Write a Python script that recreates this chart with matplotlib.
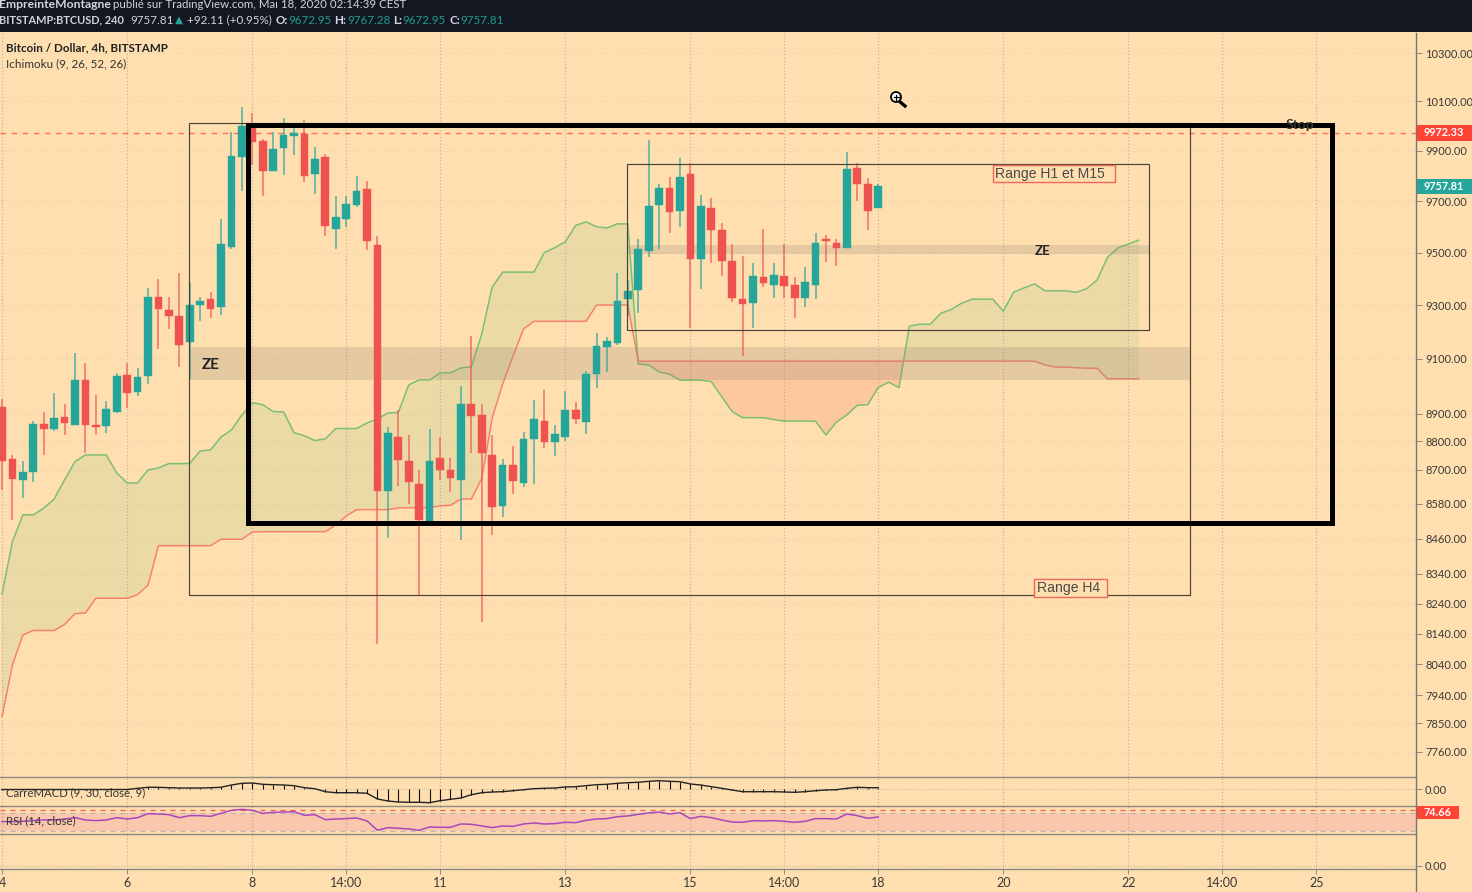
import numpy as np
import matplotlib
matplotlib.use("Agg")
import matplotlib.pyplot as plt
from matplotlib.patches import Rectangle, Ellipse
from matplotlib.lines import Line2D
from matplotlib.ticker import NullLocator

plt.rcParams['font.family'] = ['Lato', 'DejaVu Sans']

# BTCUSD 4h candles
opens = [8925, 8738, 8663, 8690, 8862, 8845, 8889, 8860, 9022, 8859, 8854, 8906, 9039, 8979, 9037, 9329, 9282,
         9259, 9162, 9299, 9322, 9292, 9523, 9876, 10000, 9941, 9819, 9912, 9961, 9968, 9806, 9875, 9593, 9630,
         9686, 9747, 9529, 8626, 8816, 8732, 8651, 8521, 8742, 8699, 8665, 8935, 8895, 8752, 8573, 8717, 8653,
         8809, 8872, 8799, 8816, 8913, 8868, 9044, 9144, 9158, 9323, 9358, 9505, 9684, 9751, 9663, 9808, 9474,
         9672, 9588, 9467, 9322, 9307, 9405, 9376, 9409, 9377, 9327, 9376, 9551, 9536, 9519, 9830, 9768, 9672.95]
highs = [8953, 8752, 8732, 8873, 8906, 8976, 8935, 9121, 9084, 8967, 8946, 9047, 9084, 9066, 9365, 9399, 9329,
         9420, 9385, 9331, 9349, 9629, 9976, 10076, 10051, 9947, 9976, 10031, 9997, 10024, 9915, 9886, 9719, 9721,
         9799, 9780, 9564, 8850, 8911, 8823, 8697, 8844, 8816, 8742, 8999, 9184, 8933, 8823, 8738, 8785, 8834,
         8949, 8986, 8859, 8982, 8942, 9056, 9195, 9179, 9422, 9395, 9552, 9943, 9768, 9795, 9871, 9852, 9725,
         9711, 9613, 9532, 9487, 9459, 9590, 9459, 9532, 9405, 9445, 9575, 9568, 9553, 9896, 9850, 9790, 9767.28]
lows = [8629, 8525, 8602, 8658, 8750, 8838, 8824, 8860, 8760, 8823, 8830, 8903, 8920, 8964, 9007, 9137, 9211,
        9071, 9027, 9241, 9250, 9264, 9515, 9741, 9842, 9721, 9819, 9802, 9884, 9777, 9729, 9565, 9515, 9600,
        9677, 9511, 8108, 8463, 8644, 8581, 8264, 8507, 8665, 8622, 8456, 8760, 8178, 8471, 8535, 8616, 8638,
        8650, 8777, 8747, 8802, 8863, 8827, 8991, 9051, 9152, 9257, 9269, 9482, 9515, 9577, 9600, 9213, 9360,
        9459, 9411, 9310, 9111, 9213, 9370, 9327, 9327, 9253, 9292, 9323, 9465, 9448, 9519, 9700, 9586, 9672.95]
closes = [8731, 8667, 8693, 8863, 8845, 8884, 8867, 9022, 8857, 8853, 8916, 9037, 8974, 9033, 9329, 9285, 9260,
          9152, 9301, 9315, 9285, 9532, 9879, 10000, 9935, 9820, 9907, 9964, 9972, 9798, 9867, 9604, 9636, 9689,
          9740, 9543, 8626, 8831, 8733, 8657, 8525, 8732, 8698, 8671, 8935, 8890, 8757, 8570, 8717, 8661, 8810,
          8880, 8799, 8827, 8913, 8879, 9044, 9147, 9164, 9315, 9352, 9514, 9679, 9753, 9659, 9794, 9474, 9681,
          9587, 9466, 9327, 9303, 9411, 9382, 9415, 9372, 9327, 9387, 9536, 9544, 9519, 9826, 9766, 9663, 9757.81]

# Ichimoku cloud, runs 26 bars past the last candle
span_a = [8272, 8450, 8542, 8542, 8565, 8597, 8664, 8728, 8752, 8752, 8752, 8688, 8653, 8653, 8699, 8706, 8721,
          8721, 8722, 8766, 8770, 8816, 8841, 8895, 8939, 8932, 8907, 8906, 8831, 8820, 8803, 8809, 8846, 8846,
          8846, 8866, 8881, 8902, 8904, 9004, 9022, 9022, 9048, 9048, 9066, 9070, 9192, 9368, 9425, 9425, 9425,
          9425, 9500, 9519, 9541, 9605, 9619, 9600, 9595, 9611, 9611, 9080, 9077, 9051, 9043, 9021, 9021, 9021,
          9016, 8961, 8907, 8885, 8885, 8885, 8878, 8873, 8873, 8873, 8872, 8823, 8869, 8895, 8930, 8932, 8994,
          9014, 8994, 9221, 9228, 9228, 9269, 9283, 9307, 9322, 9322, 9322, 9277, 9349, 9365, 9380, 9354, 9354,
          9354, 9348, 9362, 9395, 9482, 9518, 9533, 9548]
span_b = [7871, 8038, 8136, 8151, 8151, 8151, 8171, 8207, 8209, 8258, 8258, 8258, 8258, 8270, 8302, 8436, 8436,
          8436, 8436, 8436, 8436, 8458, 8458, 8458, 8483, 8484, 8484, 8484, 8484, 8484, 8484, 8484, 8507, 8538,
          8560, 8560, 8560, 8560, 8566, 8567, 8567, 8567, 8573, 8575, 8597, 8597, 8669, 8884, 9007, 9110, 9210,
          9239, 9239, 9239, 9239, 9239, 9239, 9300, 9300, 9300, 9300] + [9091] * 39 + [9077, 9069, 9069, 9067,
          9065, 9065, 9026, 9026, 9026, 9026]

macd = [-0.5] * 13 + [0.7, 1.7, 1.7, 1.3, 1, 1, 1, 1.3, 1.7, 4, 5.7, 6, 4.7, 4.3, 4, 3.3, 1.3, 0.3, -2.7, -3.7,
        -3.7, -3.7, -4.3, -10, -12, -13, -13.3, -13.3, -13.7, -11.7, -10.3, -9, -5.7, -3.7, -3, -2.7, -1.7, -0.7,
        0.3, 0.7, 1, 2, 2.3, 3.3, 4.3, 4.7, 5.7, 6.3, 6.7, 7.7, 8.3, 7.7, 7.3, 5, 4, 2.3, 0.7, -1, -2.7, -2.7,
        -2.7, -2.7, -3, -3.3, -2.7, -1.7, -1, -0.7, 0.7, 1.7, 1.3, 1.3]

rsi = [50.7, 50.7, 51.4, 52.9, 54.3, 54.3, 56.4, 59.3, 54.3, 52.9, 54.3, 59.3, 56.4, 59.3, 67.9, 67.1, 65.7, 59.3,
       63.6, 63.6, 62.1, 68.6, 75, 77.1, 75, 68.6, 70.7, 71.4, 72.1, 64.3, 65.7, 55, 56.4, 57.2, 58.6, 52.2, 32.2,
       37.9, 36.5, 35, 32.2, 39.3, 38.6, 38.6, 45.7, 45, 41.5, 37.9, 41.5, 40.7, 45.7, 47.9, 45.7, 46.4, 49.3,
       48.6, 53.6, 56.4, 57.2, 61.4, 62.9, 66.4, 69.3, 71.4, 67.1, 70, 57.2, 62.1, 59.3, 54.3, 50, 49.3, 52.9,
       52.2, 52.9, 51.4, 49.3, 51.4, 57.2, 57.2, 56.4, 67.1, 63.6, 57.9, 60.7]

price_ticks = [10300, 10100, 9900, 9700, 9500, 9300, 9100, 8900, 8800, 8700, 8580, 8460, 8340, 8240, 8140, 8040,
               7940, 7850, 7760]
time_ticks = [0, 12, 24, 33, 42, 54, 66, 75, 84, 96, 108, 117, 126]
time_labels = ['4', '6', '8', '14:00', '11', '13', '15', '14:00', '18', '20', '22', '14:00', '25']

stop_level = 9972.33
last_price = 9757.81
rsi_last = 74.66

W, H = 1472, 892
BG = '#ffdfb0'
UP = '#26a69a'
DOWN = '#ef5350'
GREY = '#8c8a80'
TXT = '#3a3a38'


def fx(px):
    return px / W


def fy(py):
    return 1 - py / H


def pane(top, bottom):
    a = fig.add_axes([0, fy(bottom), fx(1416), (bottom - top) / H], facecolor=BG)
    a.set_xlim(-2 / 10.43, 1414 / 10.43)
    a.set_xticks(time_ticks)
    a.tick_params(axis='x', length=0, labelbottom=False)
    a.grid(axis='x', ls=':', color='#c4b6a0', lw=0.9)
    a.set_axisbelow(True)
    a.yaxis.tick_right()
    a.tick_params(axis='y', length=4, width=0.7, color=GREY, labelcolor=TXT, labelsize=8, pad=2.5)
    for s in ['left', 'bottom', 'right']:
        a.spines[s].set_visible(False)
    a.spines['top'].set_color(GREY)
    a.spines['top'].set_linewidth(1.0)
    return a


def put(px, py, s, **kw):
    kw.setdefault('va', 'center')
    kw.setdefault('color', '#d1d4dc')
    kw.setdefault('fontsize', 8.4)
    return fig.text(fx(px), fy(py), s, **kw)


def frame(x0, y0, x1, y1):
    fig.add_artist(Rectangle((fx(x0), fy(y1)), fx(x1 - x0), (y1 - y0) / H, fc=BG, ec='#f0685c', lw=1.0, zorder=11))


fig = plt.figure(figsize=(W / 100, H / 100), dpi=100, facecolor=BG)

# main pane
ax = pane(33, 777)
ax.set_yscale('log')
ax.set_ylim(7681, 10384)
ax.set_yticks(price_ticks)
ax.set_yticklabels(['%.2f' % t for t in price_ticks])
ax.yaxis.set_minor_locator(NullLocator())
ax.grid(axis='y', ls=':', color='#ecd6ab', lw=0.9)
ax.spines['top'].set_visible(False)

# cloud
xc = np.arange(len(span_a))
a = np.array(span_a, dtype=float)
b = np.array(span_b, dtype=float)
ax.fill_between(xc, a, b, where=a >= b, interpolate=True, color='#4caf50', alpha=0.1, lw=0, zorder=1)
ax.fill_between(xc, a, b, where=a <= b, interpolate=True, color='#f44336', alpha=0.14, lw=0, zorder=1)
ax.plot(xc, span_a, color='#7dbf72', lw=1.1, zorder=2)
ax.plot(xc, span_b, color='#f8806f', lw=1.1, zorder=2)

# ZE bands
ax.add_patch(Rectangle((18, 9021), 96, 9143 - 9021, fc='#9a8a78', alpha=0.25, lw=0, zorder=2))
ax.add_patch(Rectangle((60, 9493), 50, 9529 - 9493, fc='#9a8a78', alpha=0.25, lw=0, zorder=2))

# stop line
ax.axhline(stop_level, color='#ff6a5e', lw=1.0, dashes=(4, 4), zorder=2)

# candles
xs = np.arange(len(opens))
o = np.array(opens)
c = np.array(closes)
cols = [UP if c[i] >= o[i] else DOWN for i in range(len(o))]
ax.vlines(xs, lows, highs, colors=cols, lw=1.1, alpha=0.8, zorder=3)
ax.bar(xs, np.abs(c - o), bottom=np.minimum(o, c), width=0.74, color=cols, edgecolor=cols, lw=0.3, zorder=4)

# drawings
ax.add_patch(Rectangle((17.96, 8270), 113.9 - 17.96, 10012 - 8270, fill=False, ec='#4a4338', lw=0.85, zorder=5))
ax.add_patch(Rectangle((59.95, 9208), 109.97 - 59.95, 9848 - 9208, fill=False, ec='#4a4338', lw=0.85, zorder=5))
put(211, 365, 'ZE', color='#222222', fontsize=11, fontweight='bold', ha='center')
put(1043, 251, 'ZE', color='#222222', fontsize=9.5, fontweight='bold', ha='center')
put(1300, 125, 'Stop', color='#333333', fontsize=10, fontweight='bold', ha='center', zorder=1)
ax.add_patch(Rectangle((23.54, 8513), 127.55 - 23.54, 10004 - 8513, fill=False, ec='black', lw=3.6,
                       joinstyle='miter', zorder=6))

# MACD pane
ax2 = pane(777, 806)
ax2.set_ylim(-17, 12)
ax2.set_yticks([0])
ax2.set_yticklabels(['0.00'])
ax2.grid(axis='y', ls=':', color='#c8b89c', lw=0.8)
xm = np.arange(len(macd))
ax2.vlines(xm, 0, macd, colors='#111111', lw=0.8, zorder=3)
ax2.plot(xm, macd, color='#222222', lw=1.0, zorder=3)

# RSI pane
ax3 = pane(806, 834)
ax3.set_ylim(24.2, 84.3)
ax3.set_yticks([rsi_last])
ax3.set_yticklabels([''])
ax3.axhspan(30, 70, color='#e57ea0', alpha=0.24, lw=0, zorder=1)
ax3.axhline(70, color='#b9b3b8', lw=0.9, dashes=(4, 4), zorder=2)
ax3.axhline(30, color='#b9b3b8', lw=0.9, dashes=(4, 4), zorder=2)
ax3.axhline(rsi_last, color='#ff5252', lw=0.9, dashes=(4, 4), zorder=2)
ax3.plot(np.arange(len(rsi)), rsi, color='#ab47bc', lw=1.1, zorder=3)

# empty pane with time axis
ax4 = pane(834, 869)
ax4.set_ylim(-3, 32)
ax4.set_yticks([0])
ax4.set_yticklabels(['0.00'])
ax4.grid(axis='y', ls=':', color='#c8b89c', lw=0.8)
ax4.spines['bottom'].set_visible(True)
ax4.spines['bottom'].set_color(GREY)
ax4.spines['bottom'].set_linewidth(1.0)
ax4.set_xticks(time_ticks)
ax4.set_xticklabels(time_labels)
ax4.tick_params(axis='x', length=3.5, width=0.7, color=GREY, labelbottom=True, labelcolor=TXT, labelsize=9, pad=2.5)

# price axis line
fig.add_artist(Line2D([fx(1416), fx(1416)], [fy(33), fy(892)], color='#77756d', lw=1.0))

# header
fig.add_artist(Rectangle((0, fy(32)), 1, 32 / H, fc='#131722', lw=0, zorder=10))
hz = 11
put(-1, 5, 'EmpreinteMontagne', fontsize=8.7, fontweight='bold', zorder=hz)
put(113, 5, 'publié sur TradingView.com, Mai 18, 2020 02:14:39 CEST', fontsize=8.3, zorder=hz)
put(-1, 20, 'BITSTAMP:BTCUSD, 240', fontsize=7.9, fontweight='bold', zorder=hz)
put(130, 20, '9757.81', zorder=hz)
put(175, 20, '▲', color=UP, family='DejaVu Sans', fontsize=7.5, zorder=hz)
put(187, 20, '+92.11 (+0.95%)', zorder=hz)
for px, s, col in [(276, 'O:', None), (288, '9672.95', '#1f9d90'), (334, 'H:', None), (347, '9767.28', '#1f9d90'),
                   (393, 'L:', None), (402, '9672.95', '#1f9d90'), (449, 'C:', None), (460, '9757.81', '#1f9d90')]:
    if col is None:
        put(px, 20, s, fontweight='bold', zorder=hz)
    else:
        put(px, 20, s, color=col, zorder=hz)

# legends
put(6, 48, 'Bitcoin / Dollar, 4h, BITSTAMP', color='#222222', fontweight='bold')
put(6, 64, 'Ichimoku (9, 26, 52, 26)', color='#333333')
put(6, 793, 'CarréMACD (9, 30, close, 9)', color='#333333', fontsize=8.2, zorder=0.5)
put(6, 821, 'RSI (14, close)', color='#333333', fontsize=8.2, zorder=0.5)

# labelled boxes
frame(993, 165, 1115, 182)
put(995, 174, 'Range H1 et M15', color='#4a4a48', fontsize=10.1, family='Liberation Sans', zorder=12)
frame(1034, 579, 1107, 597)
put(1037, 588, 'Range H4', color='#4a4a48', fontsize=10.1, family='Liberation Sans', zorder=12)

# price tags on the axis
for top, bot, right, txt, col in [(125, 141, 1472, '9972.33', '#ff4436'), (179, 194, 1472, '9757.81', UP),
                                  (806, 819, 1459, '74.66', '#ff4436')]:
    fig.add_artist(Rectangle((fx(1417), fy(bot)), fx(right - 1417), (bot - top) / H, fc=col, lw=0, zorder=10))
    put(1424, (top + bot) / 2, txt, color='white', fontweight='bold', fontsize=7.8, zorder=11)

# magnifier cursor
fig.add_artist(Line2D([fx(899), fx(905)], [fy(101), fy(106)], color='black', lw=2.4, zorder=12))
fig.add_artist(Ellipse((fx(896), fy(97)), 10 / W, 10 / H, fc='white', ec='black', lw=1.3, zorder=12))
fig.add_artist(Line2D([fx(893.5), fx(898.5)], [fy(97), fy(97)], color='black', lw=0.9, zorder=13))
fig.add_artist(Line2D([fx(896), fx(896)], [fy(94.5), fy(99.5)], color='black', lw=0.9, zorder=13))

fig.savefig('out.png', dpi=100, facecolor=BG)
